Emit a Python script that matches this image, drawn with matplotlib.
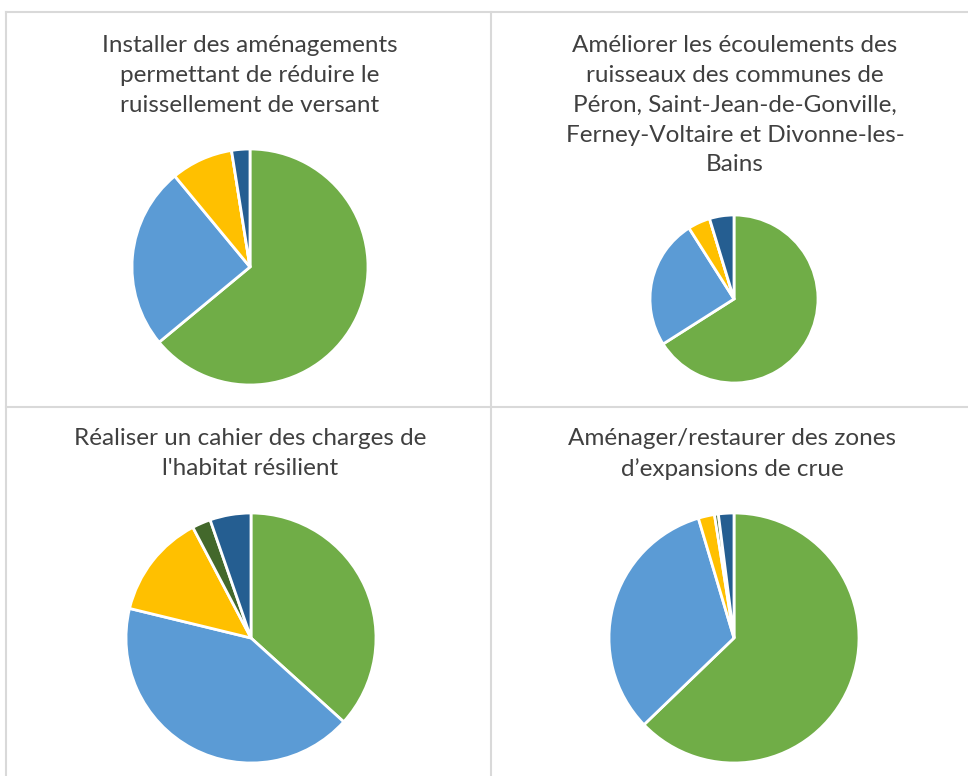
import matplotlib
matplotlib.use("Agg")
import matplotlib.pyplot as plt
from matplotlib.lines import Line2D

W, H = 968, 776

# Shares of answers for each action (green, blue, yellow, dark green, dark blue)
slice_colors = ["#70AD47", "#5B9BD5", "#FFC000", "#43682B", "#255E91"]

titles = [
    "Installer des aménagements\npermettant de réduire le\nruissellement de versant",
    "Améliorer les écoulements des\nruisseaux des communes de\nPéron, Saint-Jean-de-Gonville,\nFerney-Voltaire et Divonne-les-\nBains",
    "Réaliser un cahier des charges de\nl'habitat résilient",
    "Aménager/restaurer des zones\nd’expansions de crue",
]
values_versant = [64.0, 25.0, 8.5, 0.0, 2.5]
values_ruisseaux = [66.0, 25.0, 4.3, 0.0, 4.7]
values_habitat = [36.7, 42.1, 13.5, 2.4, 5.3]
values_crue = [62.8, 32.6, 2.1, 0.5, 2.0]
all_values = [values_versant, values_ruisseaux, values_habitat, values_crue]

# panel layout in pixels: title centre x, title top y, pie centre x, y, radius
panels = [
    (250, 35, 250, 267, 118),
    (735, 35, 734, 299, 84),
    (250, 428, 251, 638, 125),
    (732, 428, 734, 638, 125),
]

fig = plt.figure(figsize=(W / 100, H / 100), dpi=100)
fig.patch.set_facecolor("white")

# thin grey frame lines between the panels
grid_kw = dict(color="#D9D9D9", linewidth=1.5, transform=fig.transFigure)
fig.add_artist(Line2D([6 / W, 1], [1 - 12 / H, 1 - 12 / H], **grid_kw))
fig.add_artist(Line2D([6 / W, 6 / W], [0, 1 - 12 / H], **grid_kw))
fig.add_artist(Line2D([491 / W, 491 / W], [0, 1 - 12 / H], **grid_kw))
fig.add_artist(Line2D([6 / W, 1], [1 - 407 / H, 1 - 407 / H], **grid_kw))

for (tx, ty, cx, cy, r), title, vals in zip(panels, titles, all_values):
    fig.text(tx / W, 1 - ty / H, title, ha="center", va="top",
             fontsize=17.5, family="Lato", color="#404040", linespacing=1.52)
    ax = fig.add_axes([(cx - r) / W, 1 - (cy + r) / H, 2 * r / W, 2 * r / H])
    ax.pie(vals, colors=slice_colors, startangle=90, counterclock=False,
           wedgeprops=dict(edgecolor="white", linewidth=2))
    ax.set_xlim(-1, 1)
    ax.set_ylim(-1, 1)
    ax.axis("off")

fig.savefig("out.png", dpi=100)
